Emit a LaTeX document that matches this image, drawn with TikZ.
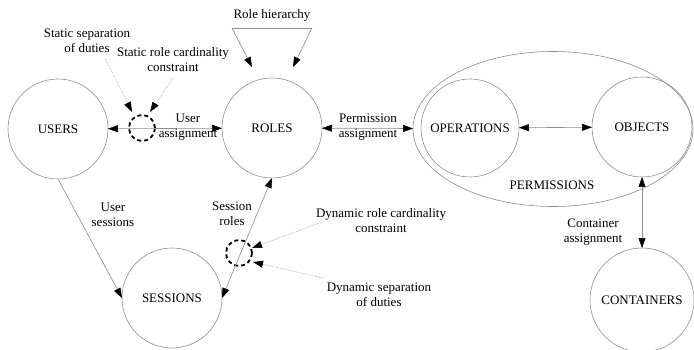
\documentclass[tikz,border=0pt]{standalone}
\usepackage{fontspec}
\setmainfont{Liberation Serif}
\usetikzlibrary{arrows.meta,shapes.geometric}
\begin{document}
\begin{tikzpicture}[x=1pt,y=-1pt,
  every node/.style={font=\fontsize{13}{15}\selectfont},
  ent/.style={circle,draw=black!45,line width=0.6pt,minimum size=#1,inner sep=0pt,outer sep=0pt},
  conn/.style={draw=black!45,line width=0.6pt,{Triangle[length=10pt,width=7pt,black]}-{Triangle[length=10pt,width=7pt,black]}},
  conn1/.style={draw=black!45,line width=0.6pt,-{Triangle[length=10pt,width=7pt,black]}},
  note/.style={draw=black!40,line width=0.6pt,densely dotted,-{Triangle[length=10pt,width=7pt,black]}},
  cons/.style={circle,draw=black,line width=1.8pt,dash pattern=on 4pt off 3pt,minimum size=26pt,inner sep=0pt},
  lbl/.style={align=center,inner sep=0pt}]
\useasboundingbox (0,0) rectangle (694,350);
% entities
\node[ent=100pt] (users) at (58,129) {USERS};
\node[ent=100pt] (roles) at (272,128) {ROLES};
\node[ent=100pt] (sessions) at (172,298) {SESSIONS};
\node[ellipse,draw=black!45,line width=0.6pt,minimum width=280pt,minimum height=155pt,inner sep=0pt,outer sep=0pt] (perm) at (553,129) {};
\node[ent=98pt] (ops) at (470,128) {OPERATIONS};
\node[ent=100pt] (obj) at (642,127) {OBJECTS};
\node[ent=104pt] (cont) at (642,300) {CONTAINERS};
\node[lbl] (permlbl) at (552,185) {PERMISSIONS};
% constraint circles
\node[cons] (ssd) at (142,128) {};
\node[cons] (dsd) at (239,253) {};
% connectors
\draw[conn] (users) -- (roles);
\draw[conn] (roles) -- (perm);
\draw[conn] (ops) -- (obj);
\draw[conn] (obj.south) -- (cont.north);
\draw[conn1] (users.south) -- (sessions.west);
\draw[conn] (sessions.east) -- (roles.south);
% role hierarchy
\node[lbl] (rhlbl) at (272,15) {Role hierarchy};
\coordinate (rha) at (232,28);
\coordinate (rhb) at (312,28);
\coordinate (rhc) at (252,67);
\coordinate (rhd) at (293,67);
\draw[conn1] (rha) -- (rhc);
\draw[conn1] (rhb) -- (rhd);
\draw[draw=black!45,line width=0.6pt] (rha) -- (rhb);
% labels
\node[lbl] (ualbl) at (188,127) {User\\assignment};
\node[lbl] (palbl) at (368,127) {Permission\\assignment};
\node[lbl] (uslbl) at (113,215) {User\\sessions};
\node[lbl] (srlbl) at (232,214) {Session\\roles};
\node[lbl] (calbl) at (593,232) {Container\\assignment};
% notes
\node[lbl] (ssdlbl) at (87,41) {Static separation\\of duties};
\node[lbl] (srclbl) at (173,60) {Static role cardinality\\constraint};
\node[lbl] (drclbl) at (381,221) {Dynamic role cardinality\\constraint};
\node[lbl] (dsdlbl) at (379,295) {Dynamic separation\\of duties};
\coordinate (n1s) at (105,58);
\coordinate (n1e) at (132,112);
\coordinate (n2s) at (173,78);
\coordinate (n2e) at (150,112);
\coordinate (n3s) at (322,222);
\coordinate (n3e) at (252,248);
\coordinate (n4s) at (323,278);
\coordinate (n4e) at (253,262);
\draw[note] (n1s) -- (n1e);
\draw[note] (n2s) -- (n2e);
\draw[note] (n3s) -- (n3e);
\draw[note] (n4s) -- (n4e);
\end{tikzpicture}
\end{document}
